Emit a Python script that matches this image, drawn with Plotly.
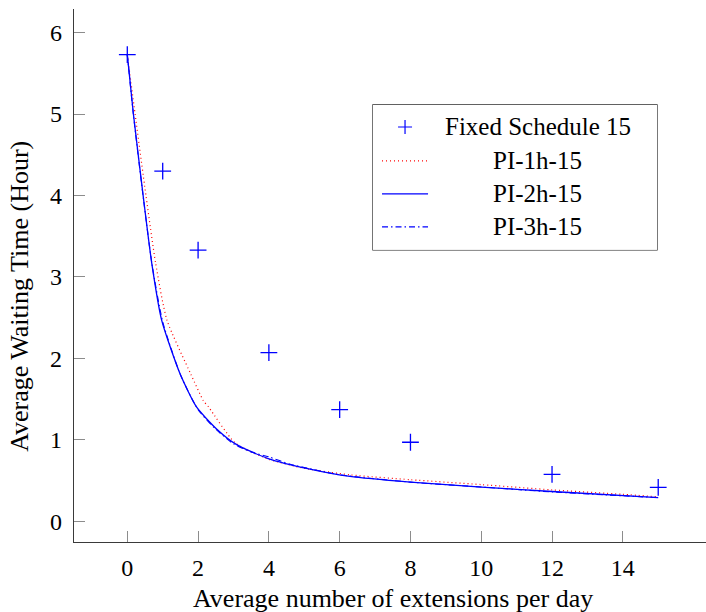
import plotly.graph_objects as go

# ---- data ----
fixed_x = [0, 1, 2, 4, 6, 8, 12, 15]
fixed_y = [5.73, 4.30, 3.33, 2.07, 1.37, 0.97, 0.575, 0.415]

pi1_x = [0, 0.22, 0.53, 0.80, 1.12, 1.79, 2.15, 2.30, 3.05, 4.0, 5.0, 6.29, 8, 10, 12, 14, 15]
pi1_y = [5.73, 5.00, 3.99, 3.17, 2.47, 1.81, 1.48, 1.40, 0.96, 0.76, 0.65, 0.57, 0.51, 0.45, 0.385, 0.33, 0.30]

pi2_x = [0, 0.17, 0.45, 0.69, 0.97, 1.49, 1.96, 2.53, 3.09, 3.98, 5.16, 6.29, 8, 10, 12, 15]
pi2_y = [5.73, 5.01, 3.99, 3.17, 2.47, 1.81, 1.40, 1.13, 0.94, 0.77, 0.64, 0.55, 0.48, 0.42, 0.365, 0.29]

pi3_x = [0, 0.17, 0.45, 0.70, 1.0, 1.5, 2.0, 2.5, 3.0, 3.5, 4.0, 4.6, 5.0, 6.0, 8, 10, 12, 15]
pi3_y = [5.73, 5.00, 3.98, 3.15, 2.45, 1.80, 1.37, 1.13, 0.95, 0.85, 0.79, 0.70, 0.66, 0.57, 0.48, 0.42, 0.36, 0.29]

names = ["Fixed Schedule 15", "PI-1h-15", "PI-2h-15", "PI-3h-15"]
xticks = [0, 2, 4, 6, 8, 10, 12, 14]
yticks = [0, 1, 2, 3, 4, 5, 6]
x_title = "Average number of extensions per day"
y_title = "Average Waiting Time (Hour)"

FONT = "Liberation Serif"
FS = 24
BLUE = "#0000ff"
RED = "#ff0000"
SMOOTH = 0.6

fig = go.Figure()

# main series
fig.add_trace(go.Scatter(x=pi1_x, y=pi1_y, mode="lines", name=names[1],
                         line=dict(color=RED, width=1.2, dash="1px,3px", shape="spline",
                                   smoothing=SMOOTH), showlegend=False))
fig.add_trace(go.Scatter(x=pi2_x, y=pi2_y, mode="lines", name=names[2],
                         line=dict(color=BLUE, width=1.3, shape="spline", smoothing=SMOOTH),
                         showlegend=False))
fig.add_trace(go.Scatter(x=pi3_x, y=pi3_y, mode="lines", name=names[3],
                         line=dict(color=BLUE, width=1.1, dash="6px,3px,1.5px,3px",
                                   shape="spline", smoothing=SMOOTH), showlegend=False))
fig.add_trace(go.Scatter(x=fixed_x, y=fixed_y, mode="markers", name=names[0],
                         marker=dict(symbol="cross-thin", size=12, color=BLUE,
                                     line=dict(color=BLUE, width=1.3)), showlegend=False))

# legend samples drawn on an auxiliary axis pair
row_y = [0.848, 0.614, 0.386, 0.159]
seg = [0.032, 0.194]
fig.add_trace(go.Scatter(x=[0.113], y=[row_y[0]], xaxis="x3", yaxis="y3", mode="markers",
                         marker=dict(symbol="cross-thin", size=10, color=BLUE,
                                     line=dict(color=BLUE, width=1.2)),
                         showlegend=False, hoverinfo="skip"))
fig.add_trace(go.Scatter(x=seg, y=[row_y[1]] * 2, xaxis="x3", yaxis="y3", mode="lines",
                         line=dict(color=RED, width=1.2, dash="1px,3px"), showlegend=False, hoverinfo="skip"))
fig.add_trace(go.Scatter(x=seg, y=[row_y[2]] * 2, xaxis="x3", yaxis="y3", mode="lines",
                         line=dict(color=BLUE, width=1.3), showlegend=False, hoverinfo="skip"))
fig.add_trace(go.Scatter(x=seg, y=[row_y[3]] * 2, xaxis="x3", yaxis="y3", mode="lines",
                         line=dict(color=BLUE, width=1.1, dash="6px,3px,1.5px,3px"),
                         showlegend=False, hoverinfo="skip"))

for name, yy in zip(names, row_y):
    fig.add_annotation(x=0.581, y=yy, xref="x3", yref="y3", text=name, showarrow=False,
                       xanchor="center", yanchor="middle",
                       font=dict(family=FONT, size=FS + 1, color="black"))

# axis titles as annotations (pixel-placed relative to plot area)
fig.add_annotation(x=0.505, y=0, xref="paper", yref="paper", yshift=-56, text=x_title,
                   showarrow=False, xanchor="center", yanchor="middle",
                   font=dict(family=FONT, size=FS + 2, color="black"))
fig.add_annotation(x=0, y=0.46, xref="paper", yref="paper", xshift=-54, text=y_title,
                   textangle=-90, showarrow=False, xanchor="center", yanchor="middle",
                   font=dict(family=FONT, size=FS + 2, color="black"))

XR = [-1.506, 16.35]
YR = [-0.255, 6.29]
tickc = "#8c8c8c"
linec = "#3a3a3a"

fig.update_layout(
    width=706, height=612,
    margin=dict(l=74, r=0, t=9, b=70, autoexpand=False),
    plot_bgcolor="white", paper_bgcolor="white",
    font=dict(family=FONT, size=FS, color="black"),
    xaxis=dict(range=XR, tickvals=xticks, ticks="inside", ticklen=11, tickwidth=1,
               tickcolor=tickc, showline=True, linecolor=linec, linewidth=1.3,
               showgrid=False, zeroline=False, automargin=False, ticklabelstandoff=4,
               tickfont=dict(family=FONT, size=FS)),
    yaxis=dict(range=YR, tickvals=yticks, ticks="inside", ticklen=11, tickwidth=1,
               tickcolor=tickc, showline=True, linecolor=linec, linewidth=1.3,
               showgrid=False, zeroline=False, ticklabelstandoff=6, automargin=False,
               tickfont=dict(family=FONT, size=FS)),
    xaxis2=dict(range=XR, overlaying="x", side="top", tickvals=xticks, ticks="inside",
                ticklen=11, tickwidth=1, tickcolor=tickc, showline=True, linecolor=linec,
                linewidth=1.3, showticklabels=False, showgrid=False, zeroline=False,
                anchor="y", automargin=False),
    yaxis2=dict(range=YR, overlaying="y", side="right", tickvals=yticks, ticks="inside",
                ticklen=6, tickwidth=1, tickcolor=tickc, showline=False,
                showticklabels=False, showgrid=False, zeroline=False, anchor="x",
                automargin=False),
    xaxis3=dict(domain=[0.473, 0.9225], range=[0, 1], visible=False, anchor="y3",
                fixedrange=True, automargin=False),
    yaxis3=dict(domain=[0.548, 0.820], range=[0, 1], visible=False, anchor="x3",
                fixedrange=True, automargin=False),
    shapes=[dict(type="rect", xref="paper", yref="paper", x0=0.473, x1=0.9225,
                 y0=0.548, y1=0.820, line=dict(color="#222222", width=1.2),
                 fillcolor="white", layer="below")],
)

fig.write_html("out.html", config={"displayModeBar": False},
               post_script="document.body.style.margin='0';")
